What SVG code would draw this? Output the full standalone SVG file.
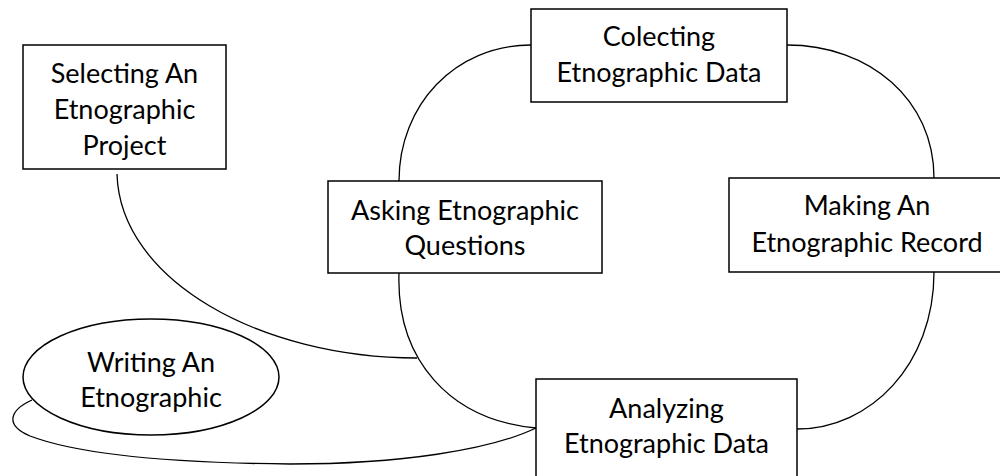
<svg xmlns="http://www.w3.org/2000/svg" width="1000" height="476" viewBox="0 0 1000 476">
<style>
.box{fill:#fff;stroke:#000;stroke-width:1.5}
.con{fill:none;stroke:#000;stroke-width:1.3}
text{font-family:Lato,"Liberation Sans",sans-serif;font-size:27px;fill:#000;text-anchor:middle}
</style>
<rect width="1000" height="476" fill="#fff"/>
<g id="connectors">
<path class="con" d="M531,45 C455,45 399,105 399,181"/>
<path class="con" d="M787,45 C870,45 934,100 934,178"/>
<path class="con" d="M934,272 C934,365 870,429 797,429"/>
<path class="con" d="M399,273 C396,360 450,420 536,428"/>
<path class="con" d="M117,174 C120,280 260,358 417,358"/>
<path class="con" d="M32,400 C10,410 4,425 30,436 C80,455 180,463 290,464 C400,464 490,450 536,428"/>
</g>
<g id="selecting">
<rect class="box" x="23" y="45" width="203" height="124"/>
<text x="124.5" y="83">Selecting An</text>
<text x="124.5" y="119">Etnographic</text>
<text x="124.5" y="155">Project</text>
</g>
<g id="colecting">
<rect class="box" x="531" y="9" width="256" height="93"/>
<text x="659" y="46">Colecting</text>
<text x="659" y="82">Etnographic Data</text>
</g>
<g id="asking">
<rect class="box" x="328" y="181" width="274" height="92"/>
<text x="465" y="220">Asking Etnographic</text>
<text x="465" y="255">Questions</text>
</g>
<g id="making">
<rect class="box" x="729" y="178" width="276" height="94"/>
<text x="867" y="215">Making An</text>
<text x="867" y="252">Etnographic Record</text>
</g>
<g id="analyzing">
<rect class="box" x="536" y="379" width="261" height="110"/>
<text x="666.5" y="418">Analyzing</text>
<text x="666.5" y="453">Etnographic Data</text>
</g>
<g id="writing">
<ellipse class="box" cx="151" cy="377" rx="128" ry="58"/>
<text x="151" y="372">Writing An</text>
<text x="151" y="407">Etnographic</text>
</g>
</svg>
